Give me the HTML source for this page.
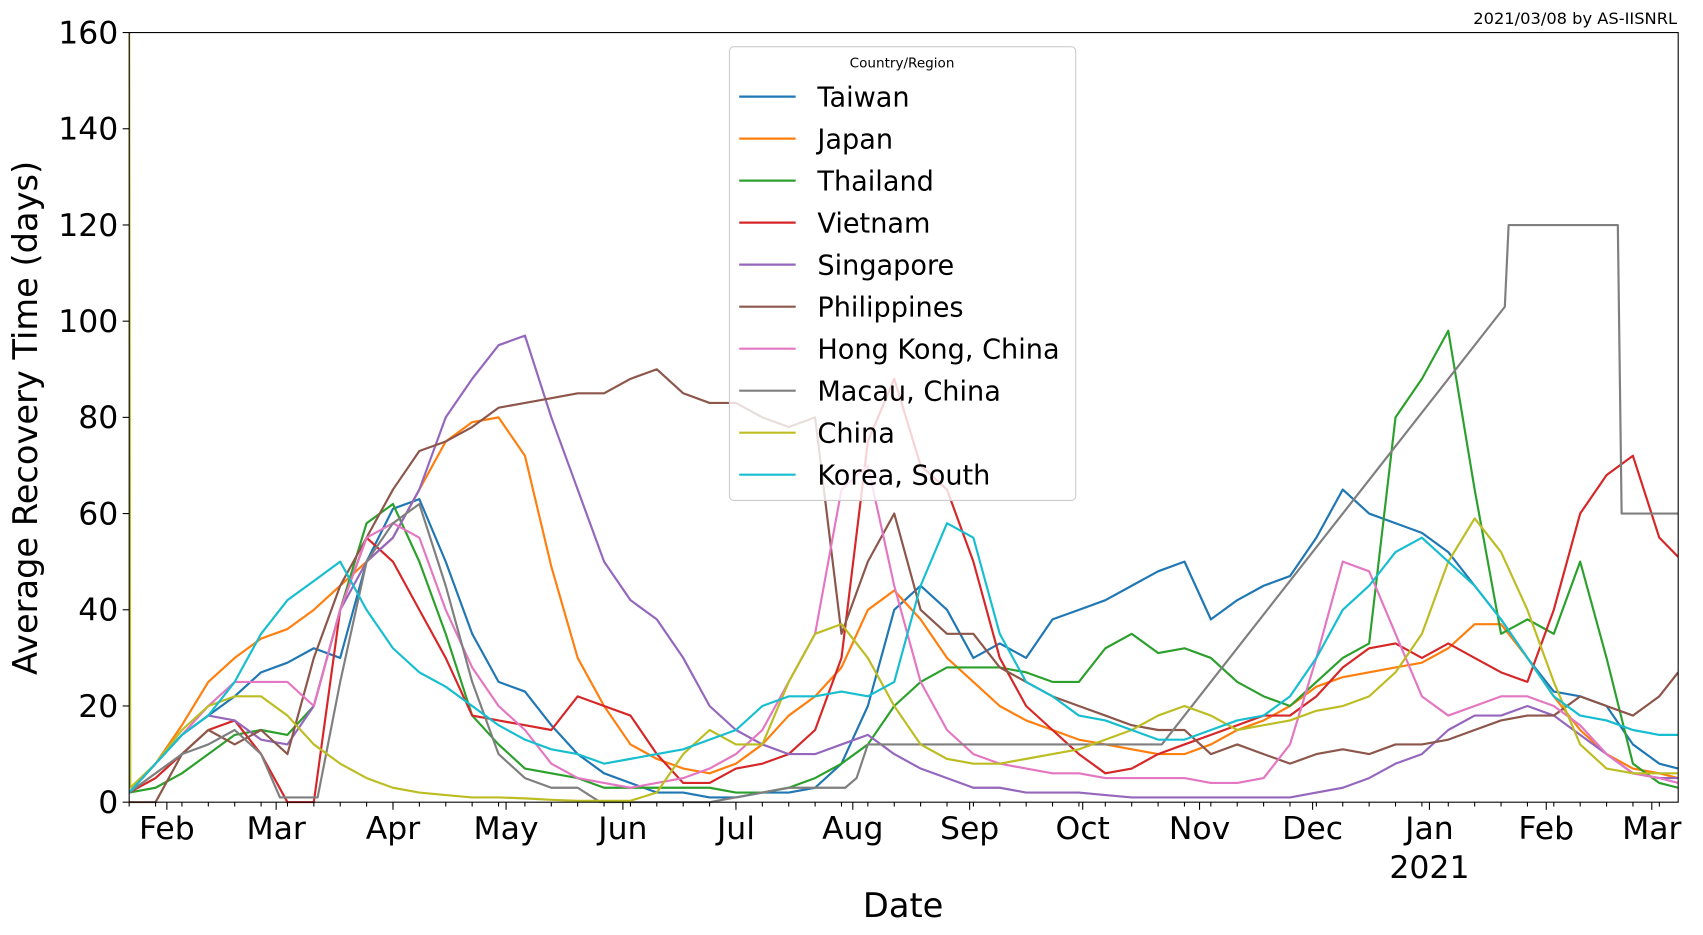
<!DOCTYPE html>
<html><head><meta charset="utf-8">
<style>
html,body{margin:0;padding:0;background:#fff;}
svg{display:block;font-family:"DejaVu Sans","Liberation Sans",sans-serif;}
</style></head>
<body>
<svg id="chart" width="1703" height="935" viewBox="0 0 1703 935" xmlns="http://www.w3.org/2000/svg">
<g transform="scale(1.0855)">
<text x="1545" y="22" text-anchor="end" font-size="15">2021/03/08 by AS-IISNRL</text>
<g id="plot"></g>
<g id="axes"></g>
<g id="legend"></g>
</g>
</svg>
<script>
const weekDays = [];
for (let d = 0; d <= 406; d += 7) weekDays.push(d);
weekDays.push(411);
const seriesNames = ["Taiwan","Japan","Thailand","Vietnam","Singapore","Philippines","Hong Kong, China","Macau, China","China","Korea, South"];
const seriesColors = ["#1f77b4","#ff7f0e","#2ca02c","#d62728","#9467bd","#8c564b","#e377c2","#7f7f7f","#bcbd22","#17becf"];
const taiwan = [2,8,14,18,22,27, 29,32,30,50,61,63,50,35,25,23,16,10,6,4,2,2,1,1,2,2,3,8,20,40,45,40,30,33,30,38,40,42,45,48,50,38,42,45,47,55,65,60,58,56,52,45,38,30,23,22,20,12,8,7];
const japan = [2,8,16,25,30,34, 36,40,45,50,55,65,75,79,80,72,49,30,20,12,9,7,6,8,12,18,22,28,40,44,38,30,25,20,17,15,13,12,11,10,10,12,15,17,20,24,26,27,28,29,32,37,37,30,22,15,10,7,6,5];
const thailand = [2,3,6,10,14,15, 14,20,40,58,62,50,35,18,12,7,6,5,3,3,3,3,3,2,2,3,5,8,12,20,25,28,28,28,27,25,25,32,35,31,32,30,25,22,20,25,30,33,80,88,98,65,35,38,35,50,30,8,4,3];
const vietnam = [2,5,10,15,17,10, 0,0,40,55,50,40,30,18,17,16,15,22,20,18,10,4,4,7,8,10,15,30,75,88,70,65,50,30,20,15,10,6,7,10,12,14,16,18,18,22,28,32,33,30,33,30,27,25,40,60,68,72,55,51];
const singapore = [2,8,14,18,17,13, 12,20,40,50,55,65,80,88,95,97,80,65,50,42,38,30,20,15,12,10,10,12,14,10,7,5,3,3,2,2,2,1.5,1,1,1,1,1,1,1,2,3,5,8,10,15,18,18,20,18,14,10,6,5,5];
const philippines = [0,0,10,15,12,15, 10,30,45,55,65,73,75,78,82,83,84,85,85,88,90,85,83,83,80,78,80,35,50,60,40,35,35,28,25,22,20,18,16,15,15,10,12,10,8,10,11,10,12,12,13,15,17,18,18,22,20,18,22,27];
const hongkong = [2,8,14,20,25,25, 25,20,40,55,58,55,40,28,20,15,8,5,4,3,4,5,7,10,15,25,35,65,70,45,25,15,10,8,7,6,6,5,5,5,5,4,4,5,12,30,50,48,35,22,18,20,22,22,20,16,10,6,5,4];
const korea = [2,8,14,18,25,35, 42,46,50,40,32,27,24,20,16,13,11,10,8,9,10,11,13,15,20,22,22,23,22,25,45,58,55,35,25,22,18,17,15,13,13,15,17,18,22,30,40,45,52,55,50,45,38,30,22,18,17,15,14,14];
const chinaDays = [0,0.3,7,14,21,28,35,42,49,56,63,70,77,84,91,98,105,112,119,126,133,140,147,154,161,168,175,182,189,196,203,210,217,224,231,238,245,252,259,266,273,280,287,294,301,308,315,322,329,336,343,350,357,364,371,378,385,392,399,406,411];
const china = [160,3,8,15,20,22,22,18,12,8,5,3,2,1.5,1,1,0.8,0.5,0.3,0.3,0.3,2,10,15,12,12,25,35,37,30,20,12,9,8,8,9,10,11,13,15,18,20,18,15,16,17,19,20,22,27,35,50,59,52,40,25,12,7,6,6,6];
const macauDays = [0,7,14,21,28,35,40,43,50,56,63,70,77,84,91,98,105,112,119,125,154,175,190,193,196,200,274,365,366,395,396,411];
const macau = [2,6,10,12,15,10,1,1,1,25,50,58,62,45,25,10,5,3,3,0,0,3,3,5,12,12,12,103,120,120,60,60];

const X0=119, X1=1546, Y0=739, Y1=30, D0=0, D1=411, V1=160;
const xs = d => X0 + (d-D0)/(D1-D0)*(X1-X0);
const ys = v => Y0 - v/V1*(Y0-Y1);
const NS="http://www.w3.org/2000/svg";
function mk(tag, attrs, parent){const e=document.createElementNS(NS,tag);for(const k in attrs)e.setAttribute(k,attrs[k]);parent.appendChild(e);return e;}

const plot=document.getElementById('plot');
const clip=mk('clipPath',{id:'clip'},plot);
mk('rect',{x:X0,y:Y1-1,width:X1-X0,height:Y0-Y1+2},clip);
const seriesData=[[weekDays,taiwan],[weekDays,japan],[weekDays,thailand],[weekDays,vietnam],[weekDays,singapore],[weekDays,philippines],[weekDays,hongkong],[macauDays,macau],[chinaDays,china],[weekDays,korea]];
const slugs=["taiwan","japan","thailand","vietnam","singapore","philippines","hong-kong","macau","china","korea-south"];
seriesData.forEach((s,i)=>{
  const pts=s[0].map((d,j)=>xs(d).toFixed(1)+','+ys(s[1][j]).toFixed(1)).join(' ');
  const pl=mk('polyline',{points:pts,fill:'none',stroke:seriesColors[i],'stroke-width':2,'stroke-linejoin':'round','clip-path':'url(#clip)'},plot);
  
  
});

const axes=document.getElementById('axes');
const frame=mk('rect',{x:X0,y:Y1,width:X1-X0,height:Y0-Y1,fill:'none',stroke:'#000','stroke-width':1},axes);


const yTicks=[0,20,40,60,80,100,120,140,160];
yTicks.forEach(v=>{
  mk('line',{x1:X0-6,x2:X0,y1:ys(v),y2:ys(v),stroke:'#000'},axes);
  const t=mk('text',{x:X0-10,y:ys(v)+10,'text-anchor':'end','font-size':29},axes);
  t.textContent=v;
  
  
});
const monthLabels=["Feb","Mar","Apr","May","Jun","Jul","Aug","Sep","Oct","Nov","Dec","Jan","Feb","Mar"];
const monthDays=[10,39,70,100,131,161,192,223,253,284,314,345,376,404];
monthLabels.forEach((m,i)=>{
  const x=xs(monthDays[i]);
  mk('line',{x1:x,x2:x,y1:Y0,y2:Y0+7,stroke:'#000'},axes);
  const t=mk('text',{x:x,y:773,'text-anchor':'middle','font-size':29},axes);
  t.textContent=m;
  
  
});
for(let d=0;d<=411;d+=7){const x=xs(d);mk('line',{x1:x,x2:x,y1:Y0,y2:Y0+4,stroke:'#000'},axes);}
const yr=mk('text',{x:xs(345),y:809,'text-anchor':'middle','font-size':29},axes);
yr.textContent='2021';


const xt=mk('text',{x:832,y:845,'text-anchor':'middle','font-size':31},axes);
xt.textContent='Date';


const yt=mk('text',{x:0,y:0,'text-anchor':'middle','font-size':31,transform:'translate(34,385) rotate(-90)'},axes);
yt.textContent='Average Recovery Time (days)';



const lg=document.getElementById('legend');
mk('rect',{x:672,y:43,width:319,height:418,rx:4,fill:'#fff','fill-opacity':0.8,stroke:'#ccc'},lg);
const lt=mk('text',{x:831,y:62,'text-anchor':'middle','font-size':12.5},lg);
lt.textContent='Country/Region';


seriesNames.forEach((n,i)=>{
  const y=89+i*38.7;
  const g=mk('g',{},lg);
  
  
  mk('line',{x1:681,x2:733,y1:y,y2:y,stroke:seriesColors[i],'stroke-width':2},g);
  const t=mk('text',{x:753,y:y+9,'font-size':25},g);
  t.textContent=n;
});
</script>
</body></html>
